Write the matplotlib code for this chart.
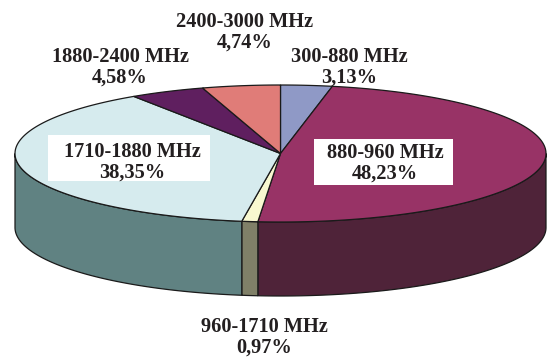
import numpy as np
import matplotlib.pyplot as plt
from matplotlib.patches import Polygon, Rectangle

# Data
bands = ['300-880 MHz', '880-960 MHz', '960-1710 MHz', '1710-1880 MHz',
         '1880-2400 MHz', '2400-3000 MHz']
shares = [3.13, 48.23, 0.97, 38.35, 4.58, 4.74]
pct_labels = ['3,13%', '48,23%', '0,97%', '38,35%', '4,58%', '4,74%']

top_colors = ['#8F99C6', '#983366', '#F8F8D0', '#D6EBEE', '#5F1F5F', '#E07C78']
side_colors = ['#5F6684', '#4F2339', '#808068', '#608282', '#3F143F', '#955350']

# pie geometry (pixels)
cx, cy = 280.5, 153.5
rx, ry = 265.5, 68.5
depth = 74

fig = plt.figure(figsize=(5.47, 3.58), dpi=100)
ax = fig.add_axes([0, 0, 1, 1])
ax.set_xlim(0, 547)
ax.set_ylim(358, 0)
ax.axis('off')

def arc(t1, t2, dy=0, n=120):
    t = np.radians(np.linspace(t1, t2, n))
    return np.column_stack([cx + rx*np.cos(t), cy - ry*np.sin(t) + dy])

cum = np.concatenate([[0], np.cumsum(shares)])
starts = 90 - cum[:-1]*3.6
ends = 90 - cum[1:]*3.6

# side walls (front half only)
for i in range(len(shares)):
    lo = max(ends[i], -180)
    hi = min(starts[i], 0)
    if lo < hi:
        top = arc(hi, lo)
        bot = arc(lo, hi, dy=depth)
        ax.add_patch(Polygon(np.vstack([top, bot]), closed=True,
                             facecolor=side_colors[i], edgecolor='#1a1a1a',
                             linewidth=0.9))

# top face
for i in range(len(shares)):
    pts = np.vstack([[cx, cy], arc(starts[i], ends[i])])
    ax.add_patch(Polygon(pts, closed=True, facecolor=top_colors[i],
                         edgecolor='#1a1a1a', linewidth=0.9))

# white label boxes
ax.add_patch(Rectangle((48, 135), 162, 46, facecolor='white', edgecolor='none'))
ax.add_patch(Rectangle((314, 139), 139, 46, facecolor='white', edgecolor='none'))

# label anchors: (x center, baseline of first line)
label_pos = [(349, 62), (385, 158), (264, 332), (132, 157), (120, 62), (245, 27)]
font = dict(family='Liberation Serif', fontweight='bold', fontsize=14.7,
            color='#231F20', ha='center', va='baseline')
for i, (x, y) in enumerate(label_pos):
    ax.text(x, y, bands[i], **font)
    ax.text(x, y + 21, pct_labels[i], **font)

fig.savefig('out.png', dpi=100)
